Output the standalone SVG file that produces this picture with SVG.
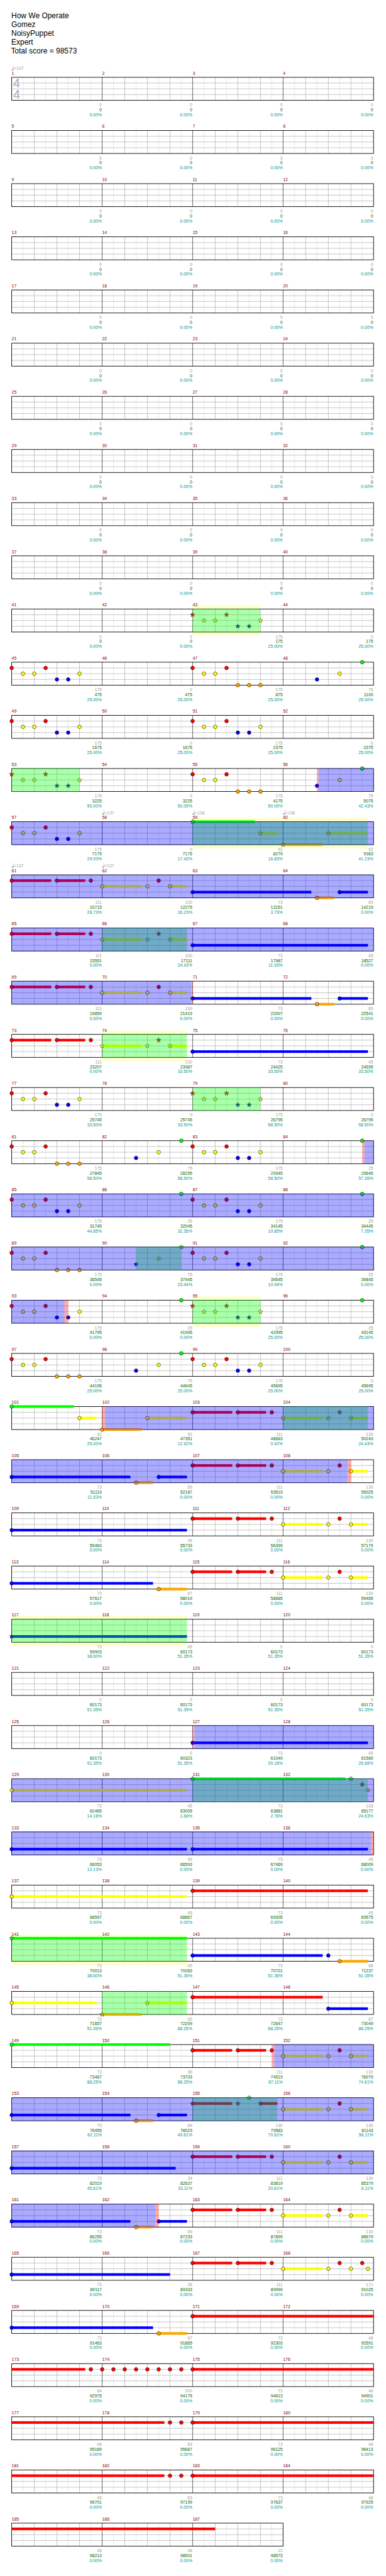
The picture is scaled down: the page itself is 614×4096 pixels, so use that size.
<svg xmlns="http://www.w3.org/2000/svg" xmlns:xlink="http://www.w3.org/1999/xlink" width="614" height="4096" viewBox="0 0 614 4096">
<style>
text{font-family:"Liberation Sans",Arial,sans-serif;font-size:11.5px}
.hd{font-size:20px;fill:#000}
.ts{font-size:33px;fill:#aaa}
.tp{fill:#a0a0a0}
.mn{fill:#800000}
.a{fill:#a0a0a0;text-anchor:end}
.b{fill:#006400;text-anchor:end}
.c{fill:#009696;text-anchor:end}
.g{fill:#00ff00}.r{fill:#ff0000}.y{fill:#ffff00}.u{fill:#0000ff}.o{fill:#ffa500}
.sp{fill:#00ff00;fill-opacity:.333}
.ac{fill:#0000ff;fill-opacity:.333}
.wn{fill:#ff0000;fill-opacity:.333}
.bd{fill:#ffffcc}
</style>
<defs>
<g id="g4">
<rect x="31" y="0" width="960" height="61" fill="#fff"/>
<path stroke="#dcdcdc" d="M61 0V61M121 0V61M181 0V61M241 0V61M301 0V61M361 0V61M421 0V61M481 0V61M541 0V61M601 0V61M661 0V61M721 0V61M781 0V61M841 0V61M901 0V61M961 0V61"/>
<path stroke="#a0a0a0" d="M31 15.25H991M31 30.5H991M31 45.75H991M91 0V61M151 0V61M211 0V61M331 0V61M391 0V61M451 0V61M571 0V61M631 0V61M691 0V61M811 0V61M871 0V61M931 0V61"/>
<path stroke="#000" d="M271 0V61M511 0V61M751 0V61"/>
<rect x="31" y="0" width="960" height="61" fill="none" stroke="#000" stroke-width="1.5"/>
</g>
<g id="g3">
<rect x="31" y="0" width="720" height="61" fill="#fff"/>
<path stroke="#dcdcdc" d="M61 0V61M121 0V61M181 0V61M241 0V61M301 0V61M361 0V61M421 0V61M481 0V61M541 0V61M601 0V61M661 0V61M721 0V61"/>
<path stroke="#a0a0a0" d="M31 15.25H751M31 30.5H751M31 45.75H751M91 0V61M151 0V61M211 0V61M331 0V61M391 0V61M451 0V61M571 0V61M631 0V61M691 0V61"/>
<path stroke="#000" d="M271 0V61M511 0V61"/>
<rect x="31" y="0" width="720" height="61" fill="none" stroke="#000" stroke-width="1.5"/>
</g>
<circle id="n" r="4.8" stroke="#000" stroke-width="0.9"/>
<path id="s" d="M0,-6.5L1.53,-2.1L6.18,-2.01L2.47,0.8L3.82,5.26L0,2.6L-3.82,5.26L-2.47,0.8L-6.18,-2.01L-1.53,-2.1Z" stroke="#000" stroke-width="0.7"/>
<g id="tq" fill="#a0a0a0"><ellipse cx="2.5" cy="-20.5" rx="2.6" ry="2"/><path d="M4.6 -20.5V-31" stroke="#a0a0a0" stroke-width="1"/></g>
</defs>
<rect width="614" height="4096" fill="#fff"/>
<g transform="scale(0.5996)">
<g id="header">
<text class="hd" x="30" y="49">How We Operate</text>
<text class="hd" x="30" y="72">Gomez</text>
<text class="hd" x="30" y="95">NoisyPuppet</text>
<text class="hd" x="30" y="118">Expert</text>
<text class="hd" x="29" y="141">Total score = 98573</text>
</g>

<g id="row-1" transform="translate(0,205)">
<use href="#g4"/>
<text class="ts" x="35" y="27">4</text><text class="ts" x="35" y="57">4</text>
<use href="#tq" x="31"/><text class="tp" x="37" y="-19.5">=137</text>
<text class="mn" x="31" y="-7">1</text><text class="mn" x="271" y="-7">2</text><text class="mn" x="511" y="-7">3</text><text class="mn" x="751" y="-7">4</text>
<text class="a" x="270" y="77">0</text><text class="a" x="510" y="77">0</text><text class="a" x="750" y="77">0</text><text class="a" x="990" y="77">0</text>
<text class="b" x="270" y="90">0</text><text class="b" x="510" y="90">0</text><text class="b" x="750" y="90">0</text><text class="b" x="990" y="90">0</text>
<text class="c" x="270" y="103">0.00%</text><text class="c" x="510" y="103">0.00%</text><text class="c" x="750" y="103">0.00%</text><text class="c" x="990" y="103">0.00%</text>
</g>
<g id="row-2" transform="translate(0,346)">
<use href="#g4"/>
<text class="mn" x="31" y="-7">5</text><text class="mn" x="271" y="-7">6</text><text class="mn" x="511" y="-7">7</text><text class="mn" x="751" y="-7">8</text>
<text class="a" x="270" y="77">0</text><text class="a" x="510" y="77">0</text><text class="a" x="750" y="77">0</text><text class="a" x="990" y="77">0</text>
<text class="b" x="270" y="90">0</text><text class="b" x="510" y="90">0</text><text class="b" x="750" y="90">0</text><text class="b" x="990" y="90">0</text>
<text class="c" x="270" y="103">0.00%</text><text class="c" x="510" y="103">0.00%</text><text class="c" x="750" y="103">0.00%</text><text class="c" x="990" y="103">0.00%</text>
</g>
<g id="row-3" transform="translate(0,487)">
<use href="#g4"/>
<text class="mn" x="31" y="-7">9</text><text class="mn" x="271" y="-7">10</text><text class="mn" x="511" y="-7">11</text><text class="mn" x="751" y="-7">12</text>
<text class="a" x="270" y="77">0</text><text class="a" x="510" y="77">0</text><text class="a" x="750" y="77">0</text><text class="a" x="990" y="77">0</text>
<text class="b" x="270" y="90">0</text><text class="b" x="510" y="90">0</text><text class="b" x="750" y="90">0</text><text class="b" x="990" y="90">0</text>
<text class="c" x="270" y="103">0.00%</text><text class="c" x="510" y="103">0.00%</text><text class="c" x="750" y="103">0.00%</text><text class="c" x="990" y="103">0.00%</text>
</g>
<g id="row-4" transform="translate(0,628)">
<use href="#g4"/>
<text class="mn" x="31" y="-7">13</text><text class="mn" x="271" y="-7">14</text><text class="mn" x="511" y="-7">15</text><text class="mn" x="751" y="-7">16</text>
<text class="a" x="270" y="77">0</text><text class="a" x="510" y="77">0</text><text class="a" x="750" y="77">0</text><text class="a" x="990" y="77">0</text>
<text class="b" x="270" y="90">0</text><text class="b" x="510" y="90">0</text><text class="b" x="750" y="90">0</text><text class="b" x="990" y="90">0</text>
<text class="c" x="270" y="103">0.00%</text><text class="c" x="510" y="103">0.00%</text><text class="c" x="750" y="103">0.00%</text><text class="c" x="990" y="103">0.00%</text>
</g>
<g id="row-5" transform="translate(0,769)">
<use href="#g4"/>
<text class="mn" x="31" y="-7">17</text><text class="mn" x="271" y="-7">18</text><text class="mn" x="511" y="-7">19</text><text class="mn" x="751" y="-7">20</text>
<text class="a" x="270" y="77">0</text><text class="a" x="510" y="77">0</text><text class="a" x="750" y="77">0</text><text class="a" x="990" y="77">0</text>
<text class="b" x="270" y="90">0</text><text class="b" x="510" y="90">0</text><text class="b" x="750" y="90">0</text><text class="b" x="990" y="90">0</text>
<text class="c" x="270" y="103">0.00%</text><text class="c" x="510" y="103">0.00%</text><text class="c" x="750" y="103">0.00%</text><text class="c" x="990" y="103">0.00%</text>
</g>
<g id="row-6" transform="translate(0,910)">
<use href="#g4"/>
<text class="mn" x="31" y="-7">21</text><text class="mn" x="271" y="-7">22</text><text class="mn" x="511" y="-7">23</text><text class="mn" x="751" y="-7">24</text>
<text class="a" x="270" y="77">0</text><text class="a" x="510" y="77">0</text><text class="a" x="750" y="77">0</text><text class="a" x="990" y="77">0</text>
<text class="b" x="270" y="90">0</text><text class="b" x="510" y="90">0</text><text class="b" x="750" y="90">0</text><text class="b" x="990" y="90">0</text>
<text class="c" x="270" y="103">0.00%</text><text class="c" x="510" y="103">0.00%</text><text class="c" x="750" y="103">0.00%</text><text class="c" x="990" y="103">0.00%</text>
</g>
<g id="row-7" transform="translate(0,1051)">
<use href="#g4"/>
<text class="mn" x="31" y="-7">25</text><text class="mn" x="271" y="-7">26</text><text class="mn" x="511" y="-7">27</text><text class="mn" x="751" y="-7">28</text>
<text class="a" x="270" y="77">0</text><text class="a" x="510" y="77">0</text><text class="a" x="750" y="77">0</text><text class="a" x="990" y="77">0</text>
<text class="b" x="270" y="90">0</text><text class="b" x="510" y="90">0</text><text class="b" x="750" y="90">0</text><text class="b" x="990" y="90">0</text>
<text class="c" x="270" y="103">0.00%</text><text class="c" x="510" y="103">0.00%</text><text class="c" x="750" y="103">0.00%</text><text class="c" x="990" y="103">0.00%</text>
</g>
<g id="row-8" transform="translate(0,1192)">
<use href="#g4"/>
<text class="mn" x="31" y="-7">29</text><text class="mn" x="271" y="-7">30</text><text class="mn" x="511" y="-7">31</text><text class="mn" x="751" y="-7">32</text>
<text class="a" x="270" y="77">0</text><text class="a" x="510" y="77">0</text><text class="a" x="750" y="77">0</text><text class="a" x="990" y="77">0</text>
<text class="b" x="270" y="90">0</text><text class="b" x="510" y="90">0</text><text class="b" x="750" y="90">0</text><text class="b" x="990" y="90">0</text>
<text class="c" x="270" y="103">0.00%</text><text class="c" x="510" y="103">0.00%</text><text class="c" x="750" y="103">0.00%</text><text class="c" x="990" y="103">0.00%</text>
</g>
<g id="row-9" transform="translate(0,1333)">
<use href="#g4"/>
<text class="mn" x="31" y="-7">33</text><text class="mn" x="271" y="-7">34</text><text class="mn" x="511" y="-7">35</text><text class="mn" x="751" y="-7">36</text>
<text class="a" x="270" y="77">0</text><text class="a" x="510" y="77">0</text><text class="a" x="750" y="77">0</text><text class="a" x="990" y="77">0</text>
<text class="b" x="270" y="90">0</text><text class="b" x="510" y="90">0</text><text class="b" x="750" y="90">0</text><text class="b" x="990" y="90">0</text>
<text class="c" x="270" y="103">0.00%</text><text class="c" x="510" y="103">0.00%</text><text class="c" x="750" y="103">0.00%</text><text class="c" x="990" y="103">0.00%</text>
</g>
<g id="row-10" transform="translate(0,1474)">
<use href="#g4"/>
<text class="mn" x="31" y="-7">37</text><text class="mn" x="271" y="-7">38</text><text class="mn" x="511" y="-7">39</text><text class="mn" x="751" y="-7">40</text>
<text class="a" x="270" y="77">0</text><text class="a" x="510" y="77">0</text><text class="a" x="750" y="77">0</text><text class="a" x="990" y="77">0</text>
<text class="b" x="270" y="90">0</text><text class="b" x="510" y="90">0</text><text class="b" x="750" y="90">0</text><text class="b" x="990" y="90">0</text>
<text class="c" x="270" y="103">0.00%</text><text class="c" x="510" y="103">0.00%</text><text class="c" x="750" y="103">0.00%</text><text class="c" x="990" y="103">0.00%</text>
</g>

<g id="row-11" transform="translate(0,1615)">
<rect class="bd" x="511" y="-10" width="180" height="81"/>
<use href="#g4"/>
<use href="#s" class="r" x="511" y="15.25"/><use href="#s" class="y" x="541" y="30.5"/><use href="#s" class="y" x="571" y="30.5"/><use href="#s" class="r" x="601" y="15.25"/><use href="#s" class="u" x="631" y="45.75"/><use href="#s" class="u" x="661" y="45.75"/><use href="#s" class="y" x="691" y="30.5"/>
<rect class="sp" x="511" y="-0.5" width="180" height="62"/>
<text class="mn" x="31" y="-7">41</text><text class="mn" x="271" y="-7">42</text><text class="mn" x="511" y="-7">43</text><text class="mn" x="751" y="-7">44</text>
<text class="a" x="270" y="77">0</text><text class="a" x="510" y="77">0</text><text class="a" x="750" y="77">175</text><text class="a" x="990" y="77">0</text>
<text class="b" x="270" y="90">0</text><text class="b" x="510" y="90">0</text><text class="b" x="750" y="90">175</text><text class="b" x="990" y="90">175</text>
<text class="c" x="270" y="103">0.00%</text><text class="c" x="510" y="103">0.00%</text><text class="c" x="750" y="103">25.00%</text><text class="c" x="990" y="103">25.00%</text>
</g>

<g id="row-12" transform="translate(0,1756)">
<use href="#g4"/>
<use href="#n" class="r" x="31" y="15.25"/><use href="#n" class="y" x="61" y="30.5"/><use href="#n" class="y" x="91" y="30.5"/><use href="#n" class="r" x="121" y="15.25"/><use href="#n" class="u" x="151" y="45.75"/><use href="#n" class="u" x="181" y="45.75"/><use href="#n" class="y" x="211" y="30.5"/>
<use href="#n" class="r" x="511" y="15.25"/><use href="#n" class="y" x="541" y="30.5"/><use href="#n" class="y" x="571" y="30.5"/><use href="#n" class="r" x="601" y="15.25"/><use href="#n" class="o" x="631" y="61"/><use href="#n" class="o" x="661" y="61"/><use href="#n" class="o" x="691" y="61"/>
<use href="#n" class="u" x="841" y="45.75"/><use href="#n" class="y" x="901" y="30.5"/><use href="#n" class="g" x="961" y="0"/>
<text class="mn" x="31" y="-7">45</text><text class="mn" x="271" y="-7">46</text><text class="mn" x="511" y="-7">47</text><text class="mn" x="751" y="-7">48</text>
<text class="a" x="270" y="77">175</text><text class="a" x="510" y="77">0</text><text class="a" x="750" y="77">175</text><text class="a" x="990" y="77">75</text>
<text class="b" x="270" y="90">475</text><text class="b" x="510" y="90">475</text><text class="b" x="750" y="90">875</text><text class="b" x="990" y="90">1100</text>
<text class="c" x="270" y="103">25.00%</text><text class="c" x="510" y="103">25.00%</text><text class="c" x="750" y="103">25.00%</text><text class="c" x="990" y="103">25.00%</text>
</g>

<g id="row-13" transform="translate(0,1897)">
<use href="#g4"/>
<use href="#n" class="r" x="31" y="15.25"/><use href="#n" class="y" x="61" y="30.5"/><use href="#n" class="y" x="91" y="30.5"/><use href="#n" class="r" x="121" y="15.25"/><use href="#n" class="u" x="151" y="45.75"/><use href="#n" class="u" x="181" y="45.75"/><use href="#n" class="y" x="211" y="30.5"/>
<use href="#n" class="r" x="511" y="15.25"/><use href="#n" class="y" x="541" y="30.5"/><use href="#n" class="y" x="571" y="30.5"/><use href="#n" class="r" x="601" y="15.25"/><use href="#n" class="u" x="631" y="45.75"/><use href="#n" class="u" x="661" y="45.75"/><use href="#n" class="y" x="691" y="30.5"/>
<text class="mn" x="31" y="-7">49</text><text class="mn" x="271" y="-7">50</text><text class="mn" x="511" y="-7">51</text><text class="mn" x="751" y="-7">52</text>
<text class="a" x="270" y="77">175</text><text class="a" x="510" y="77">0</text><text class="a" x="750" y="77">175</text><text class="a" x="990" y="77">0</text>
<text class="b" x="270" y="90">1675</text><text class="b" x="510" y="90">1675</text><text class="b" x="750" y="90">2375</text><text class="b" x="990" y="90">2375</text>
<text class="c" x="270" y="103">25.00%</text><text class="c" x="510" y="103">25.00%</text><text class="c" x="750" y="103">25.00%</text><text class="c" x="990" y="103">25.00%</text>
</g>

<g id="row-14" transform="translate(0,2038)">
<use href="#g4"/>
<use href="#s" class="r" x="31" y="15.25"/><use href="#s" class="y" x="61" y="30.5"/><use href="#s" class="y" x="91" y="30.5"/><use href="#s" class="r" x="121" y="15.25"/><use href="#s" class="u" x="151" y="45.75"/><use href="#s" class="u" x="181" y="45.75"/><use href="#s" class="y" x="211" y="30.5"/>
<use href="#n" class="r" x="511" y="15.25"/><use href="#n" class="y" x="541" y="30.5"/><use href="#n" class="y" x="571" y="30.5"/><use href="#n" class="r" x="601" y="15.25"/><use href="#n" class="o" x="631" y="61"/><use href="#n" class="o" x="661" y="61"/><use href="#n" class="o" x="691" y="61"/>
<use href="#n" class="u" x="841" y="45.75"/><use href="#n" class="y" x="901" y="30.5"/><use href="#n" class="g" x="961" y="0"/>
<rect class="sp" x="31" y="-0.5" width="180" height="62"/>
<rect class="wn" x="841" y="-0.5" width="4" height="62"/>
<rect class="ac" x="845" y="-0.5" width="146" height="62"/>
<text class="mn" x="31" y="-7">53</text><text class="mn" x="271" y="-7">54</text><text class="mn" x="511" y="-7">55</text><text class="mn" x="751" y="-7">56</text>
<text class="a" x="270" y="77">175</text><text class="a" x="510" y="77">0</text><text class="a" x="750" y="77">175</text><text class="a" x="990" y="77">75</text>
<text class="b" x="270" y="90">3225</text><text class="b" x="510" y="90">3225</text><text class="b" x="750" y="90">4175</text><text class="b" x="990" y="90">5075</text>
<text class="c" x="270" y="103">50.00%</text><text class="c" x="510" y="103">50.00%</text><text class="c" x="750" y="103">50.00%</text><text class="c" x="990" y="103">42.43%</text>
</g>

<g id="row-15" transform="translate(0,2179)">
<rect class="bd" x="511" y="-10" width="465" height="81"/>
<use href="#g4"/>
<use href="#n" class="r" x="31" y="15.25"/><use href="#n" class="y" x="61" y="30.5"/><use href="#n" class="y" x="91" y="30.5"/><use href="#n" class="r" x="121" y="15.25"/><use href="#n" class="u" x="151" y="45.75"/><use href="#n" class="u" x="181" y="45.75"/><use href="#n" class="y" x="211" y="30.5"/>
<rect class="g" x="511" y="-3.5" width="165" height="7"/><rect class="y" x="691" y="27" width="45" height="7"/><rect class="o" x="751" y="57.5" width="105" height="7"/><rect class="y" x="871" y="27" width="105" height="7"/>
<use href="#s" class="g" x="511" y="0"/><use href="#s" class="y" x="691" y="30.5"/><use href="#s" class="o" x="751" y="61"/><use href="#s" class="y" x="871" y="30.5"/>
<rect class="sp" x="511" y="-0.5" width="465" height="62"/>
<rect class="ac" x="31" y="-0.5" width="960" height="62"/>
<use href="#tq" x="271"/><text class="tp" x="277" y="-19.5">=137</text>
<use href="#tq" x="511"/><text class="tp" x="517" y="-19.5">=138</text>
<use href="#tq" x="751"/><text class="tp" x="757" y="-19.5">=136</text>
<text class="mn" x="31" y="-7">57</text><text class="mn" x="271" y="-7">58</text><text class="mn" x="511" y="-7">59</text><text class="mn" x="751" y="-7">60</text>
<text class="a" x="270" y="77">175</text><text class="a" x="510" y="77">0</text><text class="a" x="750" y="77">92</text><text class="a" x="990" y="77">92</text>
<text class="b" x="270" y="90">7175</text><text class="b" x="510" y="90">7175</text><text class="b" x="750" y="90">8279</text><text class="b" x="990" y="90">9383</text>
<text class="c" x="270" y="103">29.93%</text><text class="c" x="510" y="103">17.43%</text><text class="c" x="750" y="103">16.83%</text><text class="c" x="990" y="103">41.23%</text>
</g>

<g id="row-16" transform="translate(0,2320)">
<use href="#g4"/>
<rect class="r" x="31" y="11.75" width="105" height="7"/><rect class="r" x="151" y="11.75" width="75" height="7"/><rect class="y" x="271" y="27" width="105" height="7"/><rect class="y" x="451" y="27" width="45" height="7"/><rect class="u" x="511" y="42.25" width="315" height="7"/><rect class="o" x="841" y="57.5" width="45" height="7"/><rect class="u" x="901" y="42.25" width="75" height="7"/>
<use href="#n" class="r" x="31" y="15.25"/><use href="#n" class="r" x="151" y="15.25"/><use href="#n" class="r" x="241" y="15.25"/><use href="#n" class="y" x="271" y="30.5"/><use href="#n" class="y" x="391" y="30.5"/><use href="#n" class="r" x="421" y="15.25"/><use href="#n" class="y" x="451" y="30.5"/><use href="#n" class="u" x="511" y="45.75"/><use href="#n" class="o" x="841" y="61"/><use href="#n" class="u" x="901" y="45.75"/>
<rect class="ac" x="31" y="-0.5" width="960" height="62"/>
<use href="#tq" x="31"/><text class="tp" x="37" y="-19.5">=137</text>
<use href="#tq" x="271"/><text class="tp" x="277" y="-19.5">=137</text>
<text class="mn" x="31" y="-7">61</text><text class="mn" x="271" y="-7">62</text><text class="mn" x="511" y="-7">63</text><text class="mn" x="751" y="-7">64</text>
<text class="a" x="270" y="77">111</text><text class="a" x="510" y="77">130</text><text class="a" x="750" y="77">73</text><text class="a" x="990" y="77">89</text>
<text class="b" x="270" y="90">10715</text><text class="b" x="510" y="90">12275</text><text class="b" x="750" y="90">13151</text><text class="b" x="990" y="90">14219</text>
<text class="c" x="270" y="103">28.73%</text><text class="c" x="510" y="103">16.23%</text><text class="c" x="750" y="103">3.73%</text><text class="c" x="990" y="103">0.00%</text>
</g>

<g id="row-17" transform="translate(0,2461)">
<use href="#g4"/>
<rect class="r" x="31" y="11.75" width="105" height="7"/><rect class="r" x="151" y="11.75" width="75" height="7"/><rect class="y" x="271" y="27" width="105" height="7"/><rect class="y" x="451" y="27" width="45" height="7"/><rect class="u" x="511" y="42.25" width="465" height="7"/>
<use href="#n" class="r" x="31" y="15.25"/><use href="#n" class="r" x="151" y="15.25"/><use href="#n" class="r" x="241" y="15.25"/><use href="#s" class="y" x="271" y="30.5"/><use href="#s" class="y" x="391" y="30.5"/><use href="#s" class="r" x="421" y="15.25"/><use href="#s" class="y" x="451" y="30.5"/><use href="#n" class="u" x="511" y="45.75"/>
<rect class="sp" x="271" y="-0.5" width="225" height="62"/>
<rect class="ac" x="31" y="-0.5" width="960" height="62"/>
<text class="mn" x="31" y="-7">65</text><text class="mn" x="271" y="-7">66</text><text class="mn" x="511" y="-7">67</text><text class="mn" x="751" y="-7">68</text>
<text class="a" x="270" y="77">111</text><text class="a" x="510" y="77">130</text><text class="a" x="750" y="77">73</text><text class="a" x="990" y="77">45</text>
<text class="b" x="270" y="90">15551</text><text class="b" x="510" y="90">17111</text><text class="b" x="750" y="90">17987</text><text class="b" x="990" y="90">18527</text>
<text class="c" x="270" y="103">0.00%</text><text class="c" x="510" y="103">24.43%</text><text class="c" x="750" y="103">11.93%</text><text class="c" x="990" y="103">0.00%</text>
</g>

<g id="row-18" transform="translate(0,2602)">
<use href="#g4"/>
<rect class="r" x="31" y="11.75" width="105" height="7"/><rect class="r" x="151" y="11.75" width="75" height="7"/><rect class="y" x="271" y="27" width="105" height="7"/><rect class="y" x="451" y="27" width="45" height="7"/><rect class="u" x="511" y="42.25" width="315" height="7"/><rect class="o" x="841" y="57.5" width="45" height="7"/><rect class="u" x="901" y="42.25" width="75" height="7"/>
<use href="#n" class="r" x="31" y="15.25"/><use href="#n" class="r" x="151" y="15.25"/><use href="#n" class="r" x="241" y="15.25"/><use href="#n" class="y" x="271" y="30.5"/><use href="#n" class="y" x="391" y="30.5"/><use href="#n" class="r" x="421" y="15.25"/><use href="#n" class="y" x="451" y="30.5"/><use href="#n" class="u" x="511" y="45.75"/><use href="#n" class="o" x="841" y="61"/><use href="#n" class="u" x="901" y="45.75"/>
<rect class="ac" x="31" y="-0.5" width="476" height="62"/>
<rect class="wn" x="507" y="-0.5" width="4" height="62"/>
<text class="mn" x="31" y="-7">69</text><text class="mn" x="271" y="-7">70</text><text class="mn" x="511" y="-7">71</text><text class="mn" x="751" y="-7">72</text>
<text class="a" x="270" y="77">111</text><text class="a" x="510" y="77">130</text><text class="a" x="750" y="77">73</text><text class="a" x="990" y="77">89</text>
<text class="b" x="270" y="90">19859</text><text class="b" x="510" y="90">21419</text><text class="b" x="750" y="90">22007</text><text class="b" x="990" y="90">22541</text>
<text class="c" x="270" y="103">0.00%</text><text class="c" x="510" y="103">0.00%</text><text class="c" x="750" y="103">0.00%</text><text class="c" x="990" y="103">0.00%</text>
</g>

<g id="row-19" transform="translate(0,2743)">
<rect class="bd" x="271" y="-10" width="225" height="81"/>
<use href="#g4"/>
<rect class="r" x="31" y="11.75" width="105" height="7"/><rect class="r" x="151" y="11.75" width="75" height="7"/><rect class="y" x="271" y="27" width="105" height="7"/><rect class="y" x="451" y="27" width="45" height="7"/><rect class="u" x="511" y="42.25" width="465" height="7"/>
<use href="#n" class="r" x="31" y="15.25"/><use href="#n" class="r" x="151" y="15.25"/><use href="#n" class="r" x="241" y="15.25"/><use href="#s" class="y" x="271" y="30.5"/><use href="#s" class="y" x="391" y="30.5"/><use href="#s" class="r" x="421" y="15.25"/><use href="#s" class="y" x="451" y="30.5"/><use href="#n" class="u" x="511" y="45.75"/>
<rect class="sp" x="271" y="-0.5" width="225" height="62"/>
<text class="mn" x="31" y="-7">73</text><text class="mn" x="271" y="-7">74</text><text class="mn" x="511" y="-7">75</text><text class="mn" x="751" y="-7">76</text>
<text class="a" x="270" y="77">111</text><text class="a" x="510" y="77">130</text><text class="a" x="750" y="77">73</text><text class="a" x="990" y="77">45</text>
<text class="b" x="270" y="90">23207</text><text class="b" x="510" y="90">23987</text><text class="b" x="750" y="90">24425</text><text class="b" x="990" y="90">24695</text>
<text class="c" x="270" y="103">0.00%</text><text class="c" x="510" y="103">33.50%</text><text class="c" x="750" y="103">33.50%</text><text class="c" x="990" y="103">33.50%</text>
</g>

<g id="row-20" transform="translate(0,2884)">
<use href="#g4"/>
<use href="#n" class="r" x="31" y="15.25"/><use href="#n" class="y" x="61" y="30.5"/><use href="#n" class="y" x="91" y="30.5"/><use href="#n" class="r" x="121" y="15.25"/><use href="#n" class="u" x="151" y="45.75"/><use href="#n" class="u" x="181" y="45.75"/><use href="#n" class="y" x="211" y="30.5"/>
<use href="#s" class="r" x="511" y="15.25"/><use href="#s" class="y" x="541" y="30.5"/><use href="#s" class="y" x="571" y="30.5"/><use href="#s" class="r" x="601" y="15.25"/><use href="#s" class="u" x="631" y="45.75"/><use href="#s" class="u" x="661" y="45.75"/><use href="#s" class="y" x="691" y="30.5"/>
<rect class="sp" x="511" y="-0.5" width="180" height="62"/>
<text class="mn" x="31" y="-7">77</text><text class="mn" x="271" y="-7">78</text><text class="mn" x="511" y="-7">79</text><text class="mn" x="751" y="-7">80</text>
<text class="a" x="270" y="77">175</text><text class="a" x="510" y="77">0</text><text class="a" x="750" y="77">175</text><text class="a" x="990" y="77">0</text>
<text class="b" x="270" y="90">25745</text><text class="b" x="510" y="90">25745</text><text class="b" x="750" y="90">26795</text><text class="b" x="990" y="90">26795</text>
<text class="c" x="270" y="103">33.50%</text><text class="c" x="510" y="103">33.50%</text><text class="c" x="750" y="103">58.50%</text><text class="c" x="990" y="103">58.50%</text>
</g>

<g id="row-21" transform="translate(0,3025)">
<use href="#g4"/>
<use href="#n" class="r" x="31" y="15.25"/><use href="#n" class="y" x="61" y="30.5"/><use href="#n" class="y" x="91" y="30.5"/><use href="#n" class="r" x="121" y="15.25"/><use href="#n" class="o" x="151" y="61"/><use href="#n" class="o" x="181" y="61"/><use href="#n" class="o" x="211" y="61"/>
<use href="#n" class="u" x="361" y="45.75"/><use href="#n" class="y" x="421" y="30.5"/><use href="#n" class="g" x="481" y="0"/>
<use href="#n" class="r" x="511" y="15.25"/><use href="#n" class="y" x="541" y="30.5"/><use href="#n" class="y" x="571" y="30.5"/><use href="#n" class="r" x="601" y="15.25"/><use href="#n" class="u" x="631" y="45.75"/><use href="#n" class="u" x="661" y="45.75"/><use href="#n" class="y" x="691" y="30.5"/>
<use href="#n" class="g" x="961" y="0"/>
<rect class="wn" x="961" y="-0.5" width="6" height="62"/>
<rect class="ac" x="967" y="-0.5" width="24" height="62"/>
<text class="mn" x="31" y="-7">81</text><text class="mn" x="271" y="-7">82</text><text class="mn" x="511" y="-7">83</text><text class="mn" x="751" y="-7">84</text>
<text class="a" x="270" y="77">175</text><text class="a" x="510" y="77">75</text><text class="a" x="750" y="77">175</text><text class="a" x="990" y="77">25</text>
<text class="b" x="270" y="90">27845</text><text class="b" x="510" y="90">28295</text><text class="b" x="750" y="90">29345</text><text class="b" x="990" y="90">29645</text>
<text class="c" x="270" y="103">58.50%</text><text class="c" x="510" y="103">58.50%</text><text class="c" x="750" y="103">58.50%</text><text class="c" x="990" y="103">57.35%</text>
</g>

<g id="row-22" transform="translate(0,3166)">
<use href="#g4"/>
<use href="#n" class="r" x="31" y="15.25"/><use href="#n" class="y" x="61" y="30.5"/><use href="#n" class="y" x="91" y="30.5"/><use href="#n" class="r" x="121" y="15.25"/><use href="#n" class="u" x="151" y="45.75"/><use href="#n" class="u" x="181" y="45.75"/><use href="#n" class="y" x="211" y="30.5"/>
<use href="#n" class="g" x="481" y="0"/>
<use href="#n" class="r" x="511" y="15.25"/><use href="#n" class="y" x="541" y="30.5"/><use href="#n" class="y" x="571" y="30.5"/><use href="#n" class="r" x="601" y="15.25"/><use href="#n" class="u" x="631" y="45.75"/><use href="#n" class="u" x="661" y="45.75"/><use href="#n" class="y" x="691" y="30.5"/>
<use href="#n" class="g" x="961" y="0"/>
<rect class="ac" x="31" y="-0.5" width="960" height="62"/>
<text class="mn" x="31" y="-7">85</text><text class="mn" x="271" y="-7">86</text><text class="mn" x="511" y="-7">87</text><text class="mn" x="751" y="-7">88</text>
<text class="a" x="270" y="77">175</text><text class="a" x="510" y="77">25</text><text class="a" x="750" y="77">175</text><text class="a" x="990" y="77">25</text>
<text class="b" x="270" y="90">31745</text><text class="b" x="510" y="90">32045</text><text class="b" x="750" y="90">34145</text><text class="b" x="990" y="90">34445</text>
<text class="c" x="270" y="103">44.85%</text><text class="c" x="510" y="103">32.35%</text><text class="c" x="750" y="103">19.85%</text><text class="c" x="990" y="103">7.35%</text>
</g>

<g id="row-23" transform="translate(0,3307)">
<use href="#g4"/>
<use href="#n" class="r" x="31" y="15.25"/><use href="#n" class="y" x="61" y="30.5"/><use href="#n" class="y" x="91" y="30.5"/><use href="#n" class="r" x="121" y="15.25"/><use href="#n" class="o" x="151" y="61"/><use href="#n" class="o" x="181" y="61"/><use href="#n" class="o" x="211" y="61"/>
<use href="#s" class="u" x="361" y="45.75"/><use href="#s" class="y" x="421" y="30.5"/><use href="#s" class="g" x="481" y="0"/>
<use href="#n" class="r" x="511" y="15.25"/><use href="#n" class="y" x="541" y="30.5"/><use href="#n" class="y" x="571" y="30.5"/><use href="#n" class="r" x="601" y="15.25"/><use href="#n" class="u" x="631" y="45.75"/><use href="#n" class="u" x="661" y="45.75"/><use href="#n" class="y" x="691" y="30.5"/>
<use href="#n" class="g" x="961" y="0"/>
<rect class="sp" x="361" y="-0.5" width="120" height="62"/>
<rect class="ac" x="31" y="-0.5" width="960" height="62"/>
<text class="mn" x="31" y="-7">89</text><text class="mn" x="271" y="-7">90</text><text class="mn" x="511" y="-7">91</text><text class="mn" x="751" y="-7">92</text>
<text class="a" x="270" y="77">175</text><text class="a" x="510" y="77">75</text><text class="a" x="750" y="77">175</text><text class="a" x="990" y="77">25</text>
<text class="b" x="270" y="90">36545</text><text class="b" x="510" y="90">37445</text><text class="b" x="750" y="90">39545</text><text class="b" x="990" y="90">39845</text>
<text class="c" x="270" y="103">0.00%</text><text class="c" x="510" y="103">23.44%</text><text class="c" x="750" y="103">10.94%</text><text class="c" x="990" y="103">0.00%</text>
</g>

<g id="row-24" transform="translate(0,3448)">
<rect class="bd" x="511" y="-10" width="180" height="81"/>
<use href="#g4"/>
<use href="#n" class="r" x="31" y="15.25"/><use href="#n" class="y" x="61" y="30.5"/><use href="#n" class="y" x="91" y="30.5"/><use href="#n" class="r" x="121" y="15.25"/><use href="#n" class="u" x="151" y="45.75"/><use href="#n" class="u" x="181" y="45.75"/><use href="#n" class="y" x="211" y="30.5"/>
<use href="#n" class="g" x="481" y="0"/>
<use href="#s" class="r" x="511" y="15.25"/><use href="#s" class="y" x="541" y="30.5"/><use href="#s" class="y" x="571" y="30.5"/><use href="#s" class="r" x="601" y="15.25"/><use href="#s" class="u" x="631" y="45.75"/><use href="#s" class="u" x="661" y="45.75"/><use href="#s" class="y" x="691" y="30.5"/>
<use href="#n" class="g" x="961" y="0"/>
<rect class="sp" x="511" y="-0.5" width="180" height="62"/>
<rect class="ac" x="31" y="-0.5" width="140" height="62"/>
<rect class="wn" x="171" y="-0.5" width="10" height="62"/>
<text class="mn" x="31" y="-7">93</text><text class="mn" x="271" y="-7">94</text><text class="mn" x="511" y="-7">95</text><text class="mn" x="751" y="-7">96</text>
<text class="a" x="270" y="77">175</text><text class="a" x="510" y="77">25</text><text class="a" x="750" y="77">175</text><text class="a" x="990" y="77">25</text>
<text class="b" x="270" y="90">41795</text><text class="b" x="510" y="90">41945</text><text class="b" x="750" y="90">42995</text><text class="b" x="990" y="90">43145</text>
<text class="c" x="270" y="103">0.00%</text><text class="c" x="510" y="103">0.00%</text><text class="c" x="750" y="103">25.00%</text><text class="c" x="990" y="103">25.00%</text>
</g>

<g id="row-25" transform="translate(0,3589)">
<use href="#g4"/>
<use href="#n" class="r" x="31" y="15.25"/><use href="#n" class="y" x="61" y="30.5"/><use href="#n" class="y" x="91" y="30.5"/><use href="#n" class="r" x="121" y="15.25"/><use href="#n" class="o" x="151" y="61"/><use href="#n" class="o" x="181" y="61"/><use href="#n" class="o" x="211" y="61"/>
<use href="#n" class="u" x="361" y="45.75"/><use href="#n" class="y" x="421" y="30.5"/><use href="#n" class="g" x="481" y="0"/>
<use href="#n" class="r" x="511" y="15.25"/><use href="#n" class="y" x="541" y="30.5"/><use href="#n" class="y" x="571" y="30.5"/><use href="#n" class="r" x="601" y="15.25"/><use href="#n" class="u" x="631" y="45.75"/><use href="#n" class="u" x="661" y="45.75"/><use href="#n" class="y" x="691" y="30.5"/>
<text class="mn" x="31" y="-7">97</text><text class="mn" x="271" y="-7">98</text><text class="mn" x="511" y="-7">99</text><text class="mn" x="751" y="-7">100</text>
<text class="a" x="270" y="77">175</text><text class="a" x="510" y="77">75</text><text class="a" x="750" y="77">175</text><text class="a" x="990" y="77">0</text>
<text class="b" x="270" y="90">44195</text><text class="b" x="510" y="90">44645</text><text class="b" x="750" y="90">45695</text><text class="b" x="990" y="90">45695</text>
<text class="c" x="270" y="103">25.00%</text><text class="c" x="510" y="103">25.00%</text><text class="c" x="750" y="103">25.00%</text><text class="c" x="990" y="103">25.00%</text>
</g>

<g id="row-26" transform="translate(0,3730)">
<use href="#g4"/>
<rect class="g" x="31" y="-3.5" width="165" height="7"/><rect class="y" x="211" y="27" width="45" height="7"/><rect class="o" x="271" y="57.5" width="105" height="7"/><rect class="y" x="391" y="27" width="105" height="7"/><rect class="r" x="511" y="11.75" width="105" height="7"/><rect class="r" x="631" y="11.75" width="75" height="7"/><rect class="y" x="751" y="27" width="105" height="7"/><rect class="y" x="931" y="27" width="45" height="7"/>
<use href="#n" class="g" x="31" y="0"/><use href="#n" class="y" x="211" y="30.5"/><use href="#n" class="o" x="271" y="61"/><use href="#n" class="y" x="391" y="30.5"/><use href="#n" class="r" x="511" y="15.25"/><use href="#n" class="r" x="631" y="15.25"/><use href="#n" class="r" x="721" y="15.25"/>
<use href="#s" class="y" x="751" y="30.5"/><use href="#s" class="y" x="871" y="30.5"/><use href="#s" class="r" x="901" y="15.25"/><use href="#s" class="y" x="931" y="30.5"/>
<rect class="sp" x="751" y="-0.5" width="225" height="62"/>
<rect class="wn" x="271" y="-0.5" width="8" height="62"/>
<rect class="ac" x="279" y="-0.5" width="712" height="62"/>
<text class="mn" x="31" y="-7">101</text><text class="mn" x="271" y="-7">102</text><text class="mn" x="511" y="-7">103</text><text class="mn" x="751" y="-7">104</text>
<text class="a" x="270" y="77">92</text><text class="a" x="510" y="77">92</text><text class="a" x="750" y="77">111</text><text class="a" x="990" y="77">130</text>
<text class="b" x="270" y="90">46247</text><text class="b" x="510" y="90">47351</text><text class="b" x="750" y="90">48683</text><text class="b" x="990" y="90">50243</text>
<text class="c" x="270" y="103">25.00%</text><text class="c" x="510" y="103">12.92%</text><text class="c" x="750" y="103">0.42%</text><text class="c" x="990" y="103">24.43%</text>
</g>

<g id="row-27" transform="translate(0,3871)">
<use href="#g4"/>
<rect class="u" x="31" y="42.25" width="315" height="7"/><rect class="o" x="361" y="57.5" width="45" height="7"/><rect class="u" x="421" y="42.25" width="75" height="7"/><rect class="r" x="511" y="11.75" width="105" height="7"/><rect class="r" x="631" y="11.75" width="75" height="7"/><rect class="y" x="751" y="27" width="105" height="7"/><rect class="y" x="931" y="27" width="45" height="7"/>
<use href="#n" class="u" x="31" y="45.75"/><use href="#n" class="o" x="361" y="61"/><use href="#n" class="u" x="421" y="45.75"/><use href="#n" class="r" x="511" y="15.25"/><use href="#n" class="r" x="631" y="15.25"/><use href="#n" class="r" x="721" y="15.25"/><use href="#n" class="y" x="751" y="30.5"/><use href="#n" class="y" x="871" y="30.5"/><use href="#n" class="r" x="901" y="15.25"/><use href="#n" class="y" x="931" y="30.5"/>
<rect class="ac" x="31" y="-0.5" width="891" height="62"/>
<rect class="wn" x="922" y="-0.5" width="9" height="62"/>
<text class="mn" x="31" y="-7">105</text><text class="mn" x="271" y="-7">106</text><text class="mn" x="511" y="-7">107</text><text class="mn" x="751" y="-7">108</text>
<text class="a" x="270" y="77">73</text><text class="a" x="510" y="77">89</text><text class="a" x="750" y="77">111</text><text class="a" x="990" y="77">130</text>
<text class="b" x="270" y="90">51119</text><text class="b" x="510" y="90">52187</text><text class="b" x="750" y="90">53519</text><text class="b" x="990" y="90">55025</text>
<text class="c" x="270" y="103">11.93%</text><text class="c" x="510" y="103">0.00%</text><text class="c" x="750" y="103">0.00%</text><text class="c" x="990" y="103">0.00%</text>
</g>

<g id="row-28" transform="translate(0,4012)">
<use href="#g4"/>
<rect class="u" x="31" y="42.25" width="465" height="7"/><rect class="r" x="511" y="11.75" width="105" height="7"/><rect class="r" x="631" y="11.75" width="75" height="7"/><rect class="y" x="751" y="27" width="105" height="7"/><rect class="y" x="931" y="27" width="45" height="7"/>
<use href="#n" class="u" x="31" y="45.75"/><use href="#n" class="r" x="511" y="15.25"/><use href="#n" class="r" x="631" y="15.25"/><use href="#n" class="r" x="721" y="15.25"/><use href="#n" class="y" x="751" y="30.5"/><use href="#n" class="y" x="871" y="30.5"/><use href="#n" class="r" x="901" y="15.25"/><use href="#n" class="y" x="931" y="30.5"/>
<text class="mn" x="31" y="-7">109</text><text class="mn" x="271" y="-7">110</text><text class="mn" x="511" y="-7">111</text><text class="mn" x="751" y="-7">112</text>
<text class="a" x="270" y="77">73</text><text class="a" x="510" y="77">45</text><text class="a" x="750" y="77">111</text><text class="a" x="990" y="77">130</text>
<text class="b" x="270" y="90">55463</text><text class="b" x="510" y="90">55733</text><text class="b" x="750" y="90">56399</text><text class="b" x="990" y="90">57179</text>
<text class="c" x="270" y="103">0.00%</text><text class="c" x="510" y="103">0.00%</text><text class="c" x="750" y="103">0.00%</text><text class="c" x="990" y="103">0.00%</text>
</g>

<g id="row-29" transform="translate(0,4153)">
<use href="#g4"/>
<rect class="u" x="31" y="42.25" width="375" height="7"/><rect class="o" x="421" y="57.5" width="75" height="7"/><rect class="r" x="511" y="11.75" width="105" height="7"/><rect class="r" x="631" y="11.75" width="75" height="7"/><rect class="y" x="751" y="27" width="105" height="7"/><rect class="y" x="931" y="27" width="45" height="7"/>
<use href="#n" class="u" x="31" y="45.75"/><use href="#n" class="o" x="421" y="61"/><use href="#n" class="r" x="511" y="15.25"/><use href="#n" class="r" x="631" y="15.25"/><use href="#n" class="r" x="721" y="15.25"/><use href="#n" class="y" x="751" y="30.5"/><use href="#n" class="y" x="871" y="30.5"/><use href="#n" class="r" x="901" y="15.25"/><use href="#n" class="y" x="931" y="30.5"/>
<text class="mn" x="31" y="-7">113</text><text class="mn" x="271" y="-7">114</text><text class="mn" x="511" y="-7">115</text><text class="mn" x="751" y="-7">116</text>
<text class="a" x="270" y="77">73</text><text class="a" x="510" y="77">67</text><text class="a" x="750" y="77">111</text><text class="a" x="990" y="77">130</text>
<text class="b" x="270" y="90">57617</text><text class="b" x="510" y="90">58019</text><text class="b" x="750" y="90">58685</text><text class="b" x="990" y="90">59465</text>
<text class="c" x="270" y="103">0.00%</text><text class="c" x="510" y="103">0.00%</text><text class="c" x="750" y="103">0.00%</text><text class="c" x="990" y="103">0.00%</text>
</g>

<g id="row-30" transform="translate(0,4294)">
<rect class="bd" x="31" y="-10" width="465" height="81"/>
<use href="#g4"/>
<rect class="u" x="31" y="42.25" width="465" height="7"/>
<use href="#s" class="u" x="31" y="45.75"/>
<rect class="sp" x="31" y="-0.5" width="465" height="62"/>
<text class="mn" x="31" y="-7">117</text><text class="mn" x="271" y="-7">118</text><text class="mn" x="511" y="-7">119</text><text class="mn" x="751" y="-7">120</text>
<text class="a" x="270" y="77">73</text><text class="a" x="510" y="77">45</text><text class="a" x="750" y="77">0</text><text class="a" x="990" y="77">0</text>
<text class="b" x="270" y="90">59903</text><text class="b" x="510" y="90">60173</text><text class="b" x="750" y="90">60173</text><text class="b" x="990" y="90">60173</text>
<text class="c" x="270" y="103">38.60%</text><text class="c" x="510" y="103">51.35%</text><text class="c" x="750" y="103">51.35%</text><text class="c" x="990" y="103">51.35%</text>
</g>

<g id="row-31" transform="translate(0,4435)">
<use href="#g4"/>
<text class="mn" x="31" y="-7">121</text><text class="mn" x="271" y="-7">122</text><text class="mn" x="511" y="-7">123</text><text class="mn" x="751" y="-7">124</text>
<text class="a" x="270" y="77">0</text><text class="a" x="510" y="77">0</text><text class="a" x="750" y="77">0</text><text class="a" x="990" y="77">0</text>
<text class="b" x="270" y="90">60173</text><text class="b" x="510" y="90">60173</text><text class="b" x="750" y="90">60173</text><text class="b" x="990" y="90">60173</text>
<text class="c" x="270" y="103">51.35%</text><text class="c" x="510" y="103">51.35%</text><text class="c" x="750" y="103">51.35%</text><text class="c" x="990" y="103">51.35%</text>
</g>

<g id="row-32" transform="translate(0,4576)">
<use href="#g4"/>
<rect class="u" x="511" y="42.25" width="465" height="7"/>
<use href="#n" class="u" x="511" y="45.75"/>
<rect class="wn" x="511" y="-0.5" width="5" height="62"/>
<rect class="ac" x="516" y="-0.5" width="475" height="62"/>
<text class="mn" x="31" y="-7">125</text><text class="mn" x="271" y="-7">126</text><text class="mn" x="511" y="-7">127</text><text class="mn" x="751" y="-7">128</text>
<text class="a" x="270" y="77">0</text><text class="a" x="510" y="77">0</text><text class="a" x="750" y="77">73</text><text class="a" x="990" y="77">45</text>
<text class="b" x="270" y="90">60173</text><text class="b" x="510" y="90">60323</text><text class="b" x="750" y="90">61049</text><text class="b" x="990" y="90">61589</text>
<text class="c" x="270" y="103">51.35%</text><text class="c" x="510" y="103">51.35%</text><text class="c" x="750" y="103">39.18%</text><text class="c" x="990" y="103">26.68%</text>
</g>

<g id="row-33" transform="translate(0,4717)">
<use href="#g4"/>
<rect class="y" x="31" y="27" width="465" height="7"/><rect class="g" x="511" y="-3.5" width="405" height="7"/>
<use href="#n" class="y" x="31" y="30.5"/>
<use href="#s" class="g" x="511" y="0"/><use href="#s" class="g" x="931" y="0"/><use href="#s" class="r" x="961" y="15.25"/><use href="#s" class="y" x="976" y="30.5"/>
<rect class="sp" x="511" y="-0.5" width="465" height="62"/>
<rect class="ac" x="31" y="-0.5" width="960" height="62"/>
<text class="mn" x="31" y="-7">129</text><text class="mn" x="271" y="-7">130</text><text class="mn" x="511" y="-7">131</text><text class="mn" x="751" y="-7">132</text>
<text class="a" x="270" y="77">73</text><text class="a" x="510" y="77">45</text><text class="a" x="750" y="77">73</text><text class="a" x="990" y="77">108</text>
<text class="b" x="270" y="90">62465</text><text class="b" x="510" y="90">63005</text><text class="b" x="750" y="90">63881</text><text class="b" x="990" y="90">65177</text>
<text class="c" x="270" y="103">14.18%</text><text class="c" x="510" y="103">1.68%</text><text class="c" x="750" y="103">2.78%</text><text class="c" x="990" y="103">24.63%</text>
</g>

<g id="row-34" transform="translate(0,4858)">
<use href="#g4"/>
<rect class="u" x="31" y="42.25" width="465" height="7"/><rect class="u" x="511" y="42.25" width="465" height="7"/>
<use href="#n" class="u" x="31" y="45.75"/><use href="#n" class="u" x="511" y="45.75"/>
<rect class="ac" x="31" y="-0.5" width="953" height="62"/>
<rect class="wn" x="984" y="-0.5" width="7" height="62"/>
<text class="mn" x="31" y="-7">133</text><text class="mn" x="271" y="-7">134</text><text class="mn" x="511" y="-7">135</text><text class="mn" x="751" y="-7">136</text>
<text class="a" x="270" y="77">73</text><text class="a" x="510" y="77">45</text><text class="a" x="750" y="77">73</text><text class="a" x="990" y="77">45</text>
<text class="b" x="270" y="90">66053</text><text class="b" x="510" y="90">66593</text><text class="b" x="750" y="90">67469</text><text class="b" x="990" y="90">68009</text>
<text class="c" x="270" y="103">12.13%</text><text class="c" x="510" y="103">0.00%</text><text class="c" x="750" y="103">0.00%</text><text class="c" x="990" y="103">0.00%</text>
</g>

<g id="row-35" transform="translate(0,4999)">
<use href="#g4"/>
<rect class="y" x="31" y="27" width="465" height="7"/><rect class="r" x="511" y="11.75" width="465" height="7"/>
<use href="#n" class="y" x="31" y="30.5"/><use href="#n" class="r" x="511" y="15.25"/>
<text class="mn" x="31" y="-7">137</text><text class="mn" x="271" y="-7">138</text><text class="mn" x="511" y="-7">139</text><text class="mn" x="751" y="-7">140</text>
<text class="a" x="270" y="77">73</text><text class="a" x="510" y="77">45</text><text class="a" x="750" y="77">73</text><text class="a" x="990" y="77">45</text>
<text class="b" x="270" y="90">68597</text><text class="b" x="510" y="90">68867</text><text class="b" x="750" y="90">69305</text><text class="b" x="990" y="90">69575</text>
<text class="c" x="270" y="103">0.00%</text><text class="c" x="510" y="103">0.00%</text><text class="c" x="750" y="103">0.00%</text><text class="c" x="990" y="103">0.00%</text>
</g>

<g id="row-36" transform="translate(0,5140)">
<rect class="bd" x="31" y="-10" width="465" height="81"/>
<use href="#g4"/>
<rect class="g" x="31" y="-3.5" width="465" height="7"/><rect class="u" x="511" y="42.25" width="345" height="7"/><rect class="o" x="901" y="57.5" width="75" height="7"/>
<use href="#s" class="g" x="31" y="0"/><use href="#n" class="u" x="511" y="45.75"/><use href="#n" class="u" x="871" y="45.75"/><use href="#n" class="o" x="901" y="61"/>
<rect class="sp" x="31" y="-0.5" width="465" height="62"/>
<text class="mn" x="31" y="-7">141</text><text class="mn" x="271" y="-7">142</text><text class="mn" x="511" y="-7">143</text><text class="mn" x="751" y="-7">144</text>
<text class="a" x="270" y="77">73</text><text class="a" x="510" y="77">45</text><text class="a" x="750" y="77">73</text><text class="a" x="990" y="77">86</text>
<text class="b" x="270" y="90">70013</text><text class="b" x="510" y="90">70283</text><text class="b" x="750" y="90">70721</text><text class="b" x="990" y="90">71237</text>
<text class="c" x="270" y="103">38.60%</text><text class="c" x="510" y="103">51.35%</text><text class="c" x="750" y="103">51.35%</text><text class="c" x="990" y="103">51.35%</text>
</g>

<g id="row-37" transform="translate(0,5281)">
<use href="#g4"/>
<rect class="y" x="31" y="27" width="225" height="7"/><rect class="o" x="271" y="57.5" width="105" height="7"/><rect class="y" x="391" y="27" width="105" height="7"/><rect class="r" x="511" y="11.75" width="345" height="7"/><rect class="u" x="871" y="42.25" width="105" height="7"/>
<use href="#n" class="y" x="31" y="30.5"/><use href="#s" class="o" x="271" y="61"/><use href="#s" class="y" x="391" y="30.5"/><use href="#n" class="r" x="511" y="15.25"/><use href="#n" class="u" x="871" y="45.75"/>
<rect class="sp" x="271" y="-0.5" width="225" height="62"/>
<text class="mn" x="31" y="-7">145</text><text class="mn" x="271" y="-7">146</text><text class="mn" x="511" y="-7">147</text><text class="mn" x="751" y="-7">148</text>
<text class="a" x="270" y="77">70</text><text class="a" x="510" y="77">92</text><text class="a" x="750" y="77">73</text><text class="a" x="990" y="77">67</text>
<text class="b" x="270" y="90">71657</text><text class="b" x="510" y="90">72209</text><text class="b" x="750" y="90">72647</text><text class="b" x="990" y="90">73049</text>
<text class="c" x="270" y="103">51.35%</text><text class="c" x="510" y="103">88.25%</text><text class="c" x="750" y="103">88.25%</text><text class="c" x="990" y="103">88.25%</text>
</g>

<g id="row-38" transform="translate(0,5422)">
<use href="#g4"/>
<rect class="g" x="31" y="-3.5" width="420" height="7"/><rect class="r" x="511" y="11.75" width="105" height="7"/><rect class="r" x="631" y="11.75" width="75" height="7"/><rect class="y" x="751" y="27" width="105" height="7"/><rect class="y" x="931" y="27" width="45" height="7"/>
<use href="#n" class="g" x="31" y="0"/><use href="#n" class="r" x="511" y="15.25"/><use href="#n" class="r" x="631" y="15.25"/><use href="#n" class="r" x="721" y="15.25"/><use href="#n" class="y" x="751" y="30.5"/><use href="#n" class="y" x="871" y="30.5"/><use href="#n" class="r" x="901" y="15.25"/><use href="#n" class="y" x="931" y="30.5"/>
<rect class="wn" x="721" y="-0.5" width="7" height="62"/>
<rect class="ac" x="728" y="-0.5" width="263" height="62"/>
<text class="mn" x="31" y="-7">149</text><text class="mn" x="271" y="-7">150</text><text class="mn" x="511" y="-7">151</text><text class="mn" x="751" y="-7">152</text>
<text class="a" x="270" y="77">73</text><text class="a" x="510" y="77">36</text><text class="a" x="750" y="77">111</text><text class="a" x="990" y="77">130</text>
<text class="b" x="270" y="90">73487</text><text class="b" x="510" y="90">73703</text><text class="b" x="750" y="90">74519</text><text class="b" x="990" y="90">76079</text>
<text class="c" x="270" y="103">88.25%</text><text class="c" x="510" y="103">88.25%</text><text class="c" x="750" y="103">87.11%</text><text class="c" x="990" y="103">74.61%</text>
</g>

<g id="row-39" transform="translate(0,5563)">
<use href="#g4"/>
<rect class="u" x="31" y="42.25" width="315" height="7"/><rect class="o" x="361" y="57.5" width="45" height="7"/><rect class="u" x="421" y="42.25" width="75" height="7"/><rect class="r" x="511" y="11.75" width="105" height="7"/><rect class="r" x="691" y="11.75" width="45" height="7"/><rect class="y" x="751" y="27" width="105" height="7"/><rect class="y" x="931" y="27" width="45" height="7"/>
<use href="#n" class="u" x="31" y="45.75"/><use href="#n" class="o" x="361" y="61"/><use href="#n" class="u" x="421" y="45.75"/>
<use href="#s" class="r" x="511" y="15.25"/><use href="#s" class="r" x="631" y="15.25"/><use href="#s" class="g" x="661" y="0"/><use href="#s" class="r" x="691" y="15.25"/>
<use href="#n" class="y" x="751" y="30.5"/><use href="#n" class="y" x="871" y="30.5"/><use href="#n" class="r" x="901" y="15.25"/><use href="#n" class="y" x="931" y="30.5"/>
<rect class="sp" x="511" y="-0.5" width="225" height="62"/>
<rect class="ac" x="31" y="-0.5" width="960" height="62"/>
<text class="mn" x="31" y="-7">153</text><text class="mn" x="271" y="-7">154</text><text class="mn" x="511" y="-7">155</text><text class="mn" x="751" y="-7">156</text>
<text class="a" x="270" y="77">73</text><text class="a" x="510" y="77">89</text><text class="a" x="750" y="77">130</text><text class="a" x="990" y="77">130</text>
<text class="b" x="270" y="90">76955</text><text class="b" x="510" y="90">78023</text><text class="b" x="750" y="90">79583</text><text class="b" x="990" y="90">81143</text>
<text class="c" x="270" y="103">62.11%</text><text class="c" x="510" y="103">49.61%</text><text class="c" x="750" y="103">70.61%</text><text class="c" x="990" y="103">58.11%</text>
</g>

<g id="row-40" transform="translate(0,5704)">
<use href="#g4"/>
<rect class="u" x="31" y="42.25" width="435" height="7"/><rect class="r" x="511" y="11.75" width="105" height="7"/><rect class="r" x="631" y="11.75" width="75" height="7"/><rect class="y" x="751" y="27" width="105" height="7"/><rect class="y" x="931" y="27" width="45" height="7"/>
<use href="#n" class="u" x="31" y="45.75"/><use href="#n" class="r" x="511" y="15.25"/><use href="#n" class="r" x="631" y="15.25"/><use href="#n" class="r" x="721" y="15.25"/><use href="#n" class="y" x="751" y="30.5"/><use href="#n" class="y" x="871" y="30.5"/><use href="#n" class="r" x="901" y="15.25"/><use href="#n" class="y" x="931" y="30.5"/>
<rect class="ac" x="31" y="-0.5" width="960" height="62"/>
<text class="mn" x="31" y="-7">157</text><text class="mn" x="271" y="-7">158</text><text class="mn" x="511" y="-7">159</text><text class="mn" x="751" y="-7">160</text>
<text class="a" x="270" y="77">73</text><text class="a" x="510" y="77">39</text><text class="a" x="750" y="77">111</text><text class="a" x="990" y="77">130</text>
<text class="b" x="270" y="90">82019</text><text class="b" x="510" y="90">82637</text><text class="b" x="750" y="90">83819</text><text class="b" x="990" y="90">85379</text>
<text class="c" x="270" y="103">45.61%</text><text class="c" x="510" y="103">33.11%</text><text class="c" x="750" y="103">20.61%</text><text class="c" x="990" y="103">8.11%</text>
</g>

<g id="row-41" transform="translate(0,5845)">
<use href="#g4"/>
<rect class="u" x="31" y="42.25" width="315" height="7"/><rect class="o" x="361" y="57.5" width="45" height="7"/><rect class="u" x="421" y="42.25" width="75" height="7"/><rect class="r" x="511" y="11.75" width="105" height="7"/><rect class="r" x="631" y="11.75" width="75" height="7"/><rect class="y" x="751" y="27" width="105" height="7"/><rect class="y" x="931" y="27" width="45" height="7"/>
<use href="#n" class="u" x="31" y="45.75"/><use href="#n" class="o" x="361" y="61"/><use href="#n" class="u" x="421" y="45.75"/><use href="#n" class="r" x="511" y="15.25"/><use href="#n" class="r" x="631" y="15.25"/><use href="#n" class="r" x="721" y="15.25"/><use href="#n" class="y" x="751" y="30.5"/><use href="#n" class="y" x="871" y="30.5"/><use href="#n" class="r" x="901" y="15.25"/><use href="#n" class="y" x="931" y="30.5"/>
<rect class="ac" x="31" y="-0.5" width="381" height="62"/>
<rect class="wn" x="412" y="-0.5" width="9" height="62"/>
<text class="mn" x="31" y="-7">161</text><text class="mn" x="271" y="-7">162</text><text class="mn" x="511" y="-7">163</text><text class="mn" x="751" y="-7">164</text>
<text class="a" x="270" y="77">73</text><text class="a" x="510" y="77">89</text><text class="a" x="750" y="77">111</text><text class="a" x="990" y="77">130</text>
<text class="b" x="270" y="90">86255</text><text class="b" x="510" y="90">87233</text><text class="b" x="750" y="90">87899</text><text class="b" x="990" y="90">88679</text>
<text class="c" x="270" y="103">0.00%</text><text class="c" x="510" y="103">0.00%</text><text class="c" x="750" y="103">0.00%</text><text class="c" x="990" y="103">0.00%</text>
</g>

<g id="row-42" transform="translate(0,5986)">
<use href="#g4"/>
<rect class="u" x="31" y="42.25" width="420" height="7"/><rect class="r" x="511" y="11.75" width="105" height="7"/><rect class="r" x="631" y="11.75" width="75" height="7"/><rect class="y" x="751" y="27" width="105" height="7"/>
<use href="#n" class="u" x="31" y="45.75"/><use href="#n" class="r" x="511" y="15.25"/><use href="#n" class="r" x="631" y="15.25"/><use href="#n" class="r" x="721" y="15.25"/><use href="#n" class="y" x="751" y="30.5"/><use href="#n" class="y" x="871" y="30.5"/><use href="#n" class="r" x="901" y="15.25"/><use href="#n" class="y" x="931" y="30.5"/><use href="#n" class="r" x="961" y="15.25"/><use href="#n" class="y" x="976" y="30.5"/>
<text class="mn" x="31" y="-7">165</text><text class="mn" x="271" y="-7">166</text><text class="mn" x="511" y="-7">167</text><text class="mn" x="751" y="-7">168</text>
<text class="a" x="270" y="77">73</text><text class="a" x="510" y="77">36</text><text class="a" x="750" y="77">111</text><text class="a" x="990" y="77">171</text>
<text class="b" x="270" y="90">89117</text><text class="b" x="510" y="90">89333</text><text class="b" x="750" y="90">89999</text><text class="b" x="990" y="90">91025</text>
<text class="c" x="270" y="103">0.00%</text><text class="c" x="510" y="103">0.00%</text><text class="c" x="750" y="103">0.00%</text><text class="c" x="990" y="103">0.00%</text>
</g>

<g id="row-43" transform="translate(0,6127)">
<use href="#g4"/>
<rect class="u" x="31" y="42.25" width="375" height="7"/><rect class="o" x="421" y="57.5" width="75" height="7"/><rect class="r" x="511" y="11.75" width="480" height="7"/>
<use href="#n" class="u" x="31" y="45.75"/><use href="#n" class="o" x="421" y="61"/><use href="#n" class="r" x="511" y="15.25"/>
<text class="mn" x="31" y="-7">169</text><text class="mn" x="271" y="-7">170</text><text class="mn" x="511" y="-7">171</text><text class="mn" x="751" y="-7">172</text>
<text class="a" x="270" y="77">73</text><text class="a" x="510" y="77">67</text><text class="a" x="750" y="77">73</text><text class="a" x="990" y="77">48</text>
<text class="b" x="270" y="90">91463</text><text class="b" x="510" y="90">91865</text><text class="b" x="750" y="90">92303</text><text class="b" x="990" y="90">92591</text>
<text class="c" x="270" y="103">0.00%</text><text class="c" x="510" y="103">0.00%</text><text class="c" x="750" y="103">0.00%</text><text class="c" x="990" y="103">0.00%</text>
</g>

<g id="row-44" transform="translate(0,6268)">
<use href="#g4"/>
<rect class="r" x="31" y="11.75" width="195" height="7"/><rect class="r" x="511" y="11.75" width="480" height="7"/>
<use href="#n" class="r" x="241" y="15.25"/><use href="#n" class="r" x="271" y="15.25"/><use href="#n" class="r" x="301" y="15.25"/><use href="#n" class="r" x="331" y="15.25"/><use href="#n" class="r" x="361" y="15.25"/><use href="#n" class="r" x="391" y="15.25"/><use href="#n" class="r" x="421" y="15.25"/><use href="#n" class="r" x="451" y="15.25"/><use href="#n" class="r" x="481" y="15.25"/><use href="#n" class="r" x="511" y="15.25"/>
<text class="mn" x="31" y="-7">173</text><text class="mn" x="271" y="-7">174</text><text class="mn" x="511" y="-7">175</text><text class="mn" x="751" y="-7">176</text>
<text class="a" x="270" y="77">64</text><text class="a" x="510" y="77">200</text><text class="a" x="750" y="77">73</text><text class="a" x="990" y="77">48</text>
<text class="b" x="270" y="90">92975</text><text class="b" x="510" y="90">94175</text><text class="b" x="750" y="90">94613</text><text class="b" x="990" y="90">94901</text>
<text class="c" x="270" y="103">0.00%</text><text class="c" x="510" y="103">0.00%</text><text class="c" x="750" y="103">0.00%</text><text class="c" x="990" y="103">0.00%</text>
</g>

<g id="row-45" transform="translate(0,6409)">
<use href="#g4"/>
<rect class="r" x="31" y="11.75" width="405" height="7"/><rect class="r" x="511" y="11.75" width="480" height="7"/>
<use href="#n" class="r" x="451" y="15.25"/><use href="#n" class="r" x="481" y="15.25"/><use href="#n" class="r" x="511" y="15.25"/>
<text class="mn" x="31" y="-7">177</text><text class="mn" x="271" y="-7">178</text><text class="mn" x="511" y="-7">179</text><text class="mn" x="751" y="-7">180</text>
<text class="a" x="270" y="77">48</text><text class="a" x="510" y="77">83</text><text class="a" x="750" y="77">73</text><text class="a" x="990" y="77">48</text>
<text class="b" x="270" y="90">95189</text><text class="b" x="510" y="90">95687</text><text class="b" x="750" y="90">96125</text><text class="b" x="990" y="90">96413</text>
<text class="c" x="270" y="103">0.00%</text><text class="c" x="510" y="103">0.00%</text><text class="c" x="750" y="103">0.00%</text><text class="c" x="990" y="103">0.00%</text>
</g>

<g id="row-46" transform="translate(0,6550)">
<use href="#g4"/>
<rect class="r" x="31" y="11.75" width="405" height="7"/><rect class="r" x="511" y="11.75" width="480" height="7"/>
<use href="#n" class="r" x="451" y="15.25"/><use href="#n" class="r" x="481" y="15.25"/><use href="#n" class="r" x="511" y="15.25"/>
<text class="mn" x="31" y="-7">181</text><text class="mn" x="271" y="-7">182</text><text class="mn" x="511" y="-7">183</text><text class="mn" x="751" y="-7">184</text>
<text class="a" x="270" y="77">48</text><text class="a" x="510" y="77">83</text><text class="a" x="750" y="77">73</text><text class="a" x="990" y="77">48</text>
<text class="b" x="270" y="90">96701</text><text class="b" x="510" y="90">97199</text><text class="b" x="750" y="90">97637</text><text class="b" x="990" y="90">97925</text>
<text class="c" x="270" y="103">0.00%</text><text class="c" x="510" y="103">0.00%</text><text class="c" x="750" y="103">0.00%</text><text class="c" x="990" y="103">0.00%</text>
</g>

<g id="row-47" transform="translate(0,6691)">
<use href="#g3"/>
<rect class="r" x="31" y="11.75" width="540" height="7"/>
<text class="mn" x="31" y="-7">185</text><text class="mn" x="271" y="-7">186</text><text class="mn" x="511" y="-7">187</text>
<text class="a" x="270" y="77">48</text><text class="a" x="510" y="77">48</text><text class="a" x="750" y="77">12</text>
<text class="b" x="270" y="90">98213</text><text class="b" x="510" y="90">98501</text><text class="b" x="750" y="90">98573</text>
<text class="c" x="270" y="103">0.00%</text><text class="c" x="510" y="103">0.00%</text><text class="c" x="750" y="103">0.00%</text>
</g>
</g>
</svg>
